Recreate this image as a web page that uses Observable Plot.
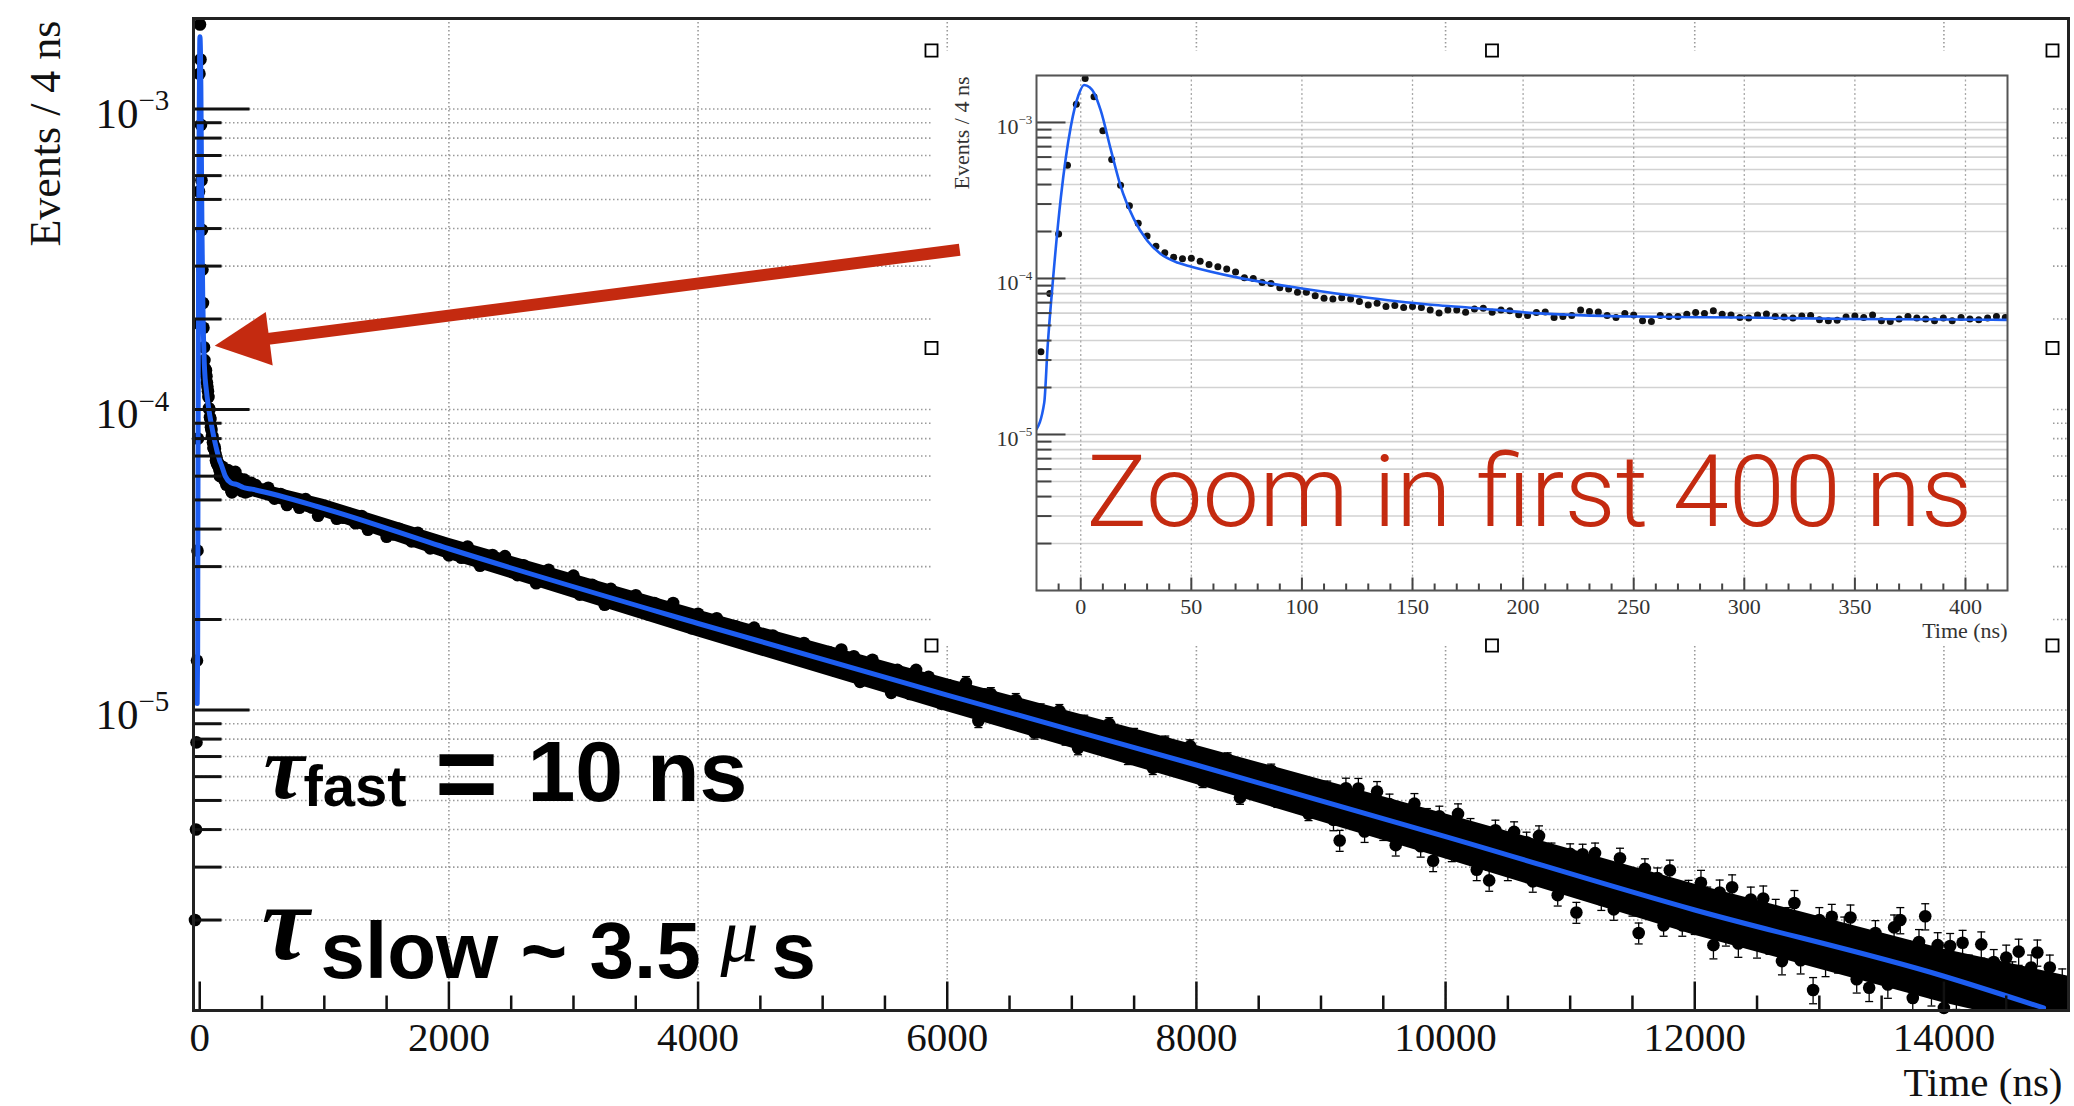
<!DOCTYPE html>
<html>
<head>
<meta charset="utf-8">
<script src="https://cdn.jsdelivr.net/npm/d3@7"></script>
<script src="https://cdn.jsdelivr.net/npm/@observablehq/plot@0.6"></script>
<style>
html, body { margin: 0; padding: 0; background: #fff; }
#stage { position: relative; width: 2074px; height: 1106px; overflow: hidden; background: #fff; }
#stage svg { position: absolute; max-width: none; }
</style>
</head>
<body>
<div id="stage"></div>
<script>
// ---------------- DATA ----------------
// Pre-trigger bins (only visible in the main panel, at the left edge)
const preTime  = [-38, -30, -26, -22];
const preValue = [2.0e-6, 4.0e-6, 7.8e-6, 1.46e-5];

// 4 ns bins of the first 420 ns (inset + main panel)
const fastTime = [
  -18,-14,-10,-6,-2,2,6,10,14,18,
  22,26,30,34,38,42,46,50,54,58,
  62,66,70,74,78,82,86,90,94,98,
  102,106,110,114,118,122,126,130,134,138,
  142,146,150,154,158,162,166,170,174,178,
  182,186,190,194,198,202,206,210,214,218,
  222,226,230,234,238,242,246,250,254,258,
  262,266,270,274,278,282,286,290,294,298,
  302,306,310,314,318,322,326,330,334,338,
  342,346,350,354,358,362,366,370,374,378,
  382,386,390,394,398,402,406,410,414,418
];
const fastValue = [
  3.39e-5,8.0e-5,1.93e-4,5.31e-4,1.31e-3,1.91e-3,1.46e-3,8.85e-4,5.79e-4,3.96e-4,
  2.92e-4,2.26e-4,1.87e-4,1.61e-4,1.46e-4,1.37e-4,1.34e-4,1.35e-4,1.29e-4,1.23e-4,
  1.19e-4,1.15e-4,1.10e-4,1.01e-4,1.00e-4,9.43e-5,9.29e-5,8.73e-5,8.55e-5,8.15e-5,
  8.15e-5,7.76e-5,7.46e-5,7.40e-5,7.53e-5,7.40e-5,7.11e-5,6.76e-5,6.93e-5,6.61e-5,
  6.70e-5,6.51e-5,6.61e-5,6.51e-5,6.29e-5,6.00e-5,6.29e-5,6.29e-5,6.08e-5,6.38e-5,
  6.45e-5,6.08e-5,6.29e-5,6.20e-5,5.85e-5,5.79e-5,6.05e-5,6.10e-5,5.62e-5,5.70e-5,
  5.79e-5,6.29e-5,6.15e-5,6.10e-5,5.79e-5,5.62e-5,5.97e-5,5.84e-5,5.35e-5,5.30e-5,
  5.79e-5,5.70e-5,5.70e-5,5.90e-5,6.05e-5,5.97e-5,6.20e-5,5.90e-5,5.84e-5,5.62e-5,
  5.58e-5,5.84e-5,5.93e-5,5.70e-5,5.66e-5,5.58e-5,5.75e-5,5.79e-5,5.43e-5,5.35e-5,
  5.39e-5,5.66e-5,5.75e-5,5.62e-5,5.84e-5,5.35e-5,5.30e-5,5.50e-5,5.70e-5,5.58e-5,
  5.50e-5,5.35e-5,5.58e-5,5.35e-5,5.62e-5,5.50e-5,5.43e-5,5.58e-5,5.70e-5,5.62e-5
];

// Slow tail, read every 50 ns (values in units of 1e-6 events / 4 ns)
const tailTime = [
  450,500,550,600,650,700,750,800,850,900,
  950,1000,1050,1100,1150,1200,1250,1300,1350,1400,
  1450,1500,1550,1600,1650,1700,1750,1800,1850,1900,
  1950,2000,2050,2100,2150,2200,2250,2300,2350,2400,
  2450,2500,2550,2600,2650,2700,2750,2800,2850,2900,
  2950,3000,3050,3100,3150,3200,3250,3300,3350,3400,
  3450,3500,3550,3600,3650,3700,3750,3800,3850,3900,
  3950,4000,4050,4100,4150,4200,4250,4300,4350,4400,
  4450,4500,4550,4600,4650,4700,4750,4800,4850,4900,
  4950,5000,5050,5100,5150,5200,5250,5300,5350,5400,
  5450,5500,5550,5600,5650,5700,5750,5800,5850,5900,
  5950,6000,6050,6100,6150,6200,6250,6300,6350,6400,
  6450,6500,6550,6600,6650,6700,6750,6800,6850,6900,
  6950,7000,7050,7100,7150,7200,7250,7300,7350,7400,
  7450,7500,7550,7600,7650,7700,7750,7800,7850,7900,
  7950,8000,8050,8100,8150,8200,8250,8300,8350,8400,
  8450,8500,8550,8600,8650,8700,8750,8800,8850,8900,
  8950,9000,9050,9100,9150,9200,9250,9300,9350,9400,
  9450,9500,9550,9600,9650,9700,9750,9800,9850,9900,
  9950,10000,10050,10100,10150,10200,10250,10300,10350,10400,
  10450,10500,10550,10600,10650,10700,10750,10800,10850,10900,
  10950,11000,11050,11100,11150,11200,11250,11300,11350,11400,
  11450,11500,11550,11600,11650,11700,11750,11800,11850,11900,
  11950,12000,12050,12100,12150,12200,12250,12300,12350,12400,
  12450,12500,12550,12600,12650,12700,12750,12800,12850,12900,
  12950,13000,13050,13100,13150,13200,13250,13300,13350,13400,
  13450,13500,13550,13600,13650,13700,13750,13800,13850,13900,
  13950,14000,14050,14100,14150,14200,14250,14300,14350,14400,
  14450,14500,14550,14600,14650,14700,14750,14800,14850,14900,
  14950
];
const tailValueMicro = [
  56.0,54.1,54.9,50.5,52.3,48.1,49.8,47.1,50.3,47.2,
  44.3,46.8,46.6,43.3,43.6,45.0,41.8,44.2,39.8,41.3,
  41.5,37.7,38.4,40.1,38.1,36.4,38.9,37.1,34.5,36.5,
  34.2,32.7,
  34.9,32.1,35.0,33.2,30.2,31.0,32.8,29.9,32.5,30.3,
  28.1,30.3,28.2,26.4,28.8,29.3,27.0,25.8,27.0,28.0,
  24.2,25.7,26.1,24.0,22.4,25.3,23.7,24.1,21.9,24.1,
  22.0,20.8,22.7,22.0,20.4,22.7,20.1,20.6,18.7,20.9,
  20.2,18.9,20.2,17.9,18.4,19.0,17.0,18.1,18.8,16.8,
  16.4,17.7,16.8,15.2,16.6,15.6,16.7,14.9,15.6,14.3,
  15.6,13.5,15.9,13.9,15.1,12.4,14.0,14.7,12.5,13.7,
  11.4,13.6,12.7,11.3,13.6,11.6,12.9,11.5,10.5,12.0,
  11.6,10.4,12.3,10.3,9.20,11.2,11.3,9.96,10.3,9.19,
  10.8,9.14,9.97,8.42,9.98,9.29,8.72,9.93,8.04,8.97,
  7.47,9.15,8.78,8.09,7.56,8.98,7.51,7.97,6.93,8.27,
  7.27,7.83,6.42,7.48,7.80,6.43,6.97,6.39,7.58,6.36,
  5.81,6.89,6.54,5.71,6.86,5.98,5.11,6.23,6.32,5.42,
  5.80,6.29,4.99,5.31,5.77,4.95,5.72,4.51,5.31,5.34,
  5.37,4.31,3.68,5.49,4.43,5.48,3.94,4.70,5.35,4.00,
  4.86,3.55,4.47,4.04,4.88,3.52,4.35,3.15,4.43,3.91,
  3.40,4.51,3.50,4.03,2.94,3.78,2.71,3.98,3.49,2.94,
  3.93,2.99,3.63,2.69,3.81,2.96,3.34,2.42,3.13,3.32,
  2.12,3.31,2.55,3.34,2.34,2.89,2.17,3.21,2.61,2.24,
  1.81,2.96,2.27,2.76,1.92,2.93,2.40,1.92,2.51,1.99,
  2.66,2.34,1.65,2.47,1.82,2.57,1.67,2.10,2.34,1.66,
  2.36,1.71,2.13,1.46,2.00,2.28,1.47,1.82,1.17,2.00,
  1.44,2.05,1.48,1.86,2.04,1.27,1.67,1.19,1.81,1.55,
  1.22,1.89,2.00,1.55,1.10,1.69,2.06,1.15,1.65,1.02,
  1.64,1.12,1.68,1.39,0.93,1.66,1.22,1.45,0.97,1.50,
  1.32,1.57,0.98,1.39,1.56,1.20,1.39,0.94,1.25
];

// Solid core of the dense 4 ns point cloud (upper / lower edge)
const bandTime  = [419, 1000, 2000, 4000, 6000, 8000, 10000, 12000, 14000, 15000];
const bandUpper = [5.75e-5, 5.02e-5, 3.73e-5, 2.15e-5, 1.27e-5, 7.62e-6, 4.51e-6, 2.63e-6, 1.60e-6, 1.30e-6];
const bandLower = [5.13e-5, 4.37e-5, 3.17e-5, 1.75e-5, 9.87e-6, 5.65e-6, 3.19e-6, 1.78e-6, 1.06e-6, 0.85e-6];

// Relative error-bar size read at a few times
const errKnotTime = [0, 3000, 6000, 9000, 12000];
const errKnotRel  = [0.012, 0.03, 0.05, 0.08, 0.10];

// Fit curve (blue)
const fitTime  = [-20.5,-16.5,-15,-12.5,-9,-4.5,-1,1.5,4,6,9,13.6,18,24,30,36,44,50,70,100,130,160,175,205,250,300,350,419,1000,2000,4000,6000,8000,10000,12000,14000,14800];
const fitValue = [1.05e-5,1.6e-5,3.6e-5,1.0e-4,3.3e-4,9.4e-4,1.5e-3,1.74e-3,1.68e-3,1.55e-3,1.2e-3,6.7e-4,3.92e-4,2.41e-4,1.75e-4,1.44e-4,1.26e-4,1.19e-4,1.02e-4,8.63e-5,7.53e-5,6.76e-5,6.52e-5,6.0e-5,5.7e-5,5.62e-5,5.5e-5,5.43e-5,4.68e-5,3.44e-5,1.94e-5,1.12e-5,6.56e-6,3.79e-6,2.16e-6,1.30e-6,1.02e-6];

// Axis ticks
const xMajorTicks = [0, 2000, 4000, 6000, 8000, 10000, 12000, 14000];
const xTickLabels = ["0", "2000", "4000", "6000", "8000", "10000", "12000", "14000"];
const xMinorTicks = [500,1000,1500,2500,3000,3500,4500,5000,5500,6500,7000,7500,8500,9000,9500,10500,11000,11500,12500,13000,13500,14500];
const xGridTicks  = [2000, 4000, 6000, 8000, 10000, 12000, 14000];
const yMajorTicks = [1e-5, 1e-4, 1e-3];
const yExponents  = ["\u22125", "\u22124", "\u22123"];
const yMinorTicks = [2e-6,3e-6,4e-6,5e-6,6e-6,7e-6,8e-6,9e-6,
                     2e-5,3e-5,4e-5,5e-5,6e-5,7e-5,8e-5,9e-5,
                     2e-4,3e-4,4e-4,5e-4,6e-4,7e-4,8e-4,9e-4];

const insetXMajor  = [0, 50, 100, 150, 200, 250, 300, 350, 400];
const insetXLabels = ["0", "50", "100", "150", "200", "250", "300", "350", "400"];
const insetXMinor  = [-10,10,20,30,40,60,70,80,90,110,120,130,140,160,170,180,190,210,220,230,240,260,270,280,290,310,320,330,340,360,370,380,390,410];

// Inset picture selection handles (fractions of the pasted picture box)
const handleX = [0, 0.5, 1, 0, 1, 0, 0.5, 1];
const handleY = [0, 0, 0, 0.5, 0.5, 1, 1, 1];

// Annotation arrow (from the inset towards the fast component)
const arrowFrom = {time: 6100, value: 3.4e-4};
const arrowTo   = {time: 120, value: 1.63e-4};

// ---------------- BUILD ----------------
const SERIF = "'Liberation Serif', 'Times New Roman', Times, serif";
const SANS  = "'Liberation Sans', Arial, Helvetica, sans-serif";
const BLUE  = "#1d5df0";
const RED   = "#c42a10";

const relErr = t => errKnotRel[Math.max(0, d3.bisectRight(errKnotTime, t) - 1)];
const mk = (t, v) => ({time: t, value: v, lo: v * (1 - relErr(t)), hi: v * (1 + relErr(t))});
const pre  = preTime.map((t, i) => mk(t, preValue[i]));
const fast = fastTime.map((t, i) => mk(t, fastValue[i]));
const nTail = Math.min(tailTime.length, tailValueMicro.length);
const tail = tailTime.slice(0, nTail).map((t, i) => mk(t, tailValueMicro[i] * 1e-6));
const mainPoints = [...pre, ...fast, ...tail].filter(d => d.value >= 1e-6);
const band = bandTime.map((t, i) => ({time: t, upper: bandUpper[i], lower: bandLower[i]}));
const fit = fitTime.map((t, i) => ({time: t, value: fitValue[i]}));
const handles = handleX.map((x, i) => ({hx: x, hy: handleY[i]}));

const tickSym = (dx, dy) => ({draw(c) { c.moveTo(0, 0); c.lineTo(dx, dy); }});
const capSym  = {draw(c) { c.moveTo(-4, 0); c.lineTo(4, 0); }};
const headSym = {draw(c) { c.moveTo(0, 0); c.lineTo(-55, -27); c.lineTo(-55, 27); c.closePath(); }};

const mainDims = {
  width: 2074, height: 1106,
  marginLeft: 193, marginRight: 6, marginTop: 18, marginBottom: 96,
  x: {domain: [-50, 15000], axis: null},
  y: {type: "log", domain: [1e-6, 2e-3], axis: null},
  style: {background: "transparent", overflow: "visible"}
};

const gridStyle = {stroke: "#9a9a9a", strokeWidth: 1.6, strokeDasharray: "1.5,2.5"};

const main = Plot.plot({
  ...mainDims,
  marks: [
    Plot.ruleY([...yMinorTicks, ...yMajorTicks], {y: d => d, ...gridStyle}),
    Plot.ruleX(xGridTicks, {x: d => d, ...gridStyle}),
    // dense core of the point cloud
    Plot.areaY(band, {x: "time", y1: "lower", y2: "upper", fill: "black", clip: true}),
    // error bars
    Plot.ruleX(mainPoints, {x: "time", y1: "lo", y2: "hi", stroke: "black", strokeWidth: 1.3, clip: true}),
    Plot.dot(mainPoints, {x: "time", y: "lo", symbol: capSym, r: 1, fill: "none", stroke: "black", strokeWidth: 1.3, clip: true}),
    Plot.dot(mainPoints, {x: "time", y: "hi", symbol: capSym, r: 1, fill: "none", stroke: "black", strokeWidth: 1.3, clip: true}),
    // data
    Plot.dot(mainPoints, {x: "time", y: "value", r: 6.3, fill: "black", stroke: "none"}),
    // fit
    Plot.line(fit, {x: "time", y: "value", stroke: BLUE, strokeWidth: 5, curve: "monotone-x", clip: true}),
    // ticks (inward)
    Plot.dot(yMajorTicks, {y: d => d, frameAnchor: "left", symbol: tickSym(56, 0), r: 1, fill: "none", stroke: "#111", strokeWidth: 3}),
    Plot.dot(yMinorTicks, {y: d => d, frameAnchor: "left", symbol: tickSym(28, 0), r: 1, fill: "none", stroke: "#111", strokeWidth: 3}),
    Plot.dot(xMajorTicks, {x: d => d, frameAnchor: "bottom", symbol: tickSym(0, -29), r: 1, fill: "none", stroke: "#111", strokeWidth: 2.5}),
    Plot.dot(xMinorTicks, {x: d => d, frameAnchor: "bottom", symbol: tickSym(0, -15), r: 1, fill: "none", stroke: "#111", strokeWidth: 2.5}),
    Plot.frame({stroke: "#222", strokeWidth: 3}),
    // tick labels
    Plot.text(yMajorTicks, {y: d => d, frameAnchor: "left", text: () => "10", dx: -55, dy: 5, textAnchor: "end", lineAnchor: "middle", fontFamily: SERIF, fontSize: 43, fill: "#111"}),
    Plot.text(yMajorTicks, {y: d => d, frameAnchor: "left", text: (d, i) => yExponents[i], dx: -55, dy: -8, textAnchor: "start", lineAnchor: "middle", fontFamily: SERIF, fontSize: 29, fill: "#111"}),
    Plot.text(xMajorTicks, {x: d => d, frameAnchor: "bottom", text: (d, i) => xTickLabels[i], dy: 27, lineAnchor: "middle", fontFamily: SERIF, fontSize: 41, fill: "#111"}),
    Plot.text(["Time (ns)"], {frameAnchor: "bottom-right", text: d => d, dx: -6, dy: 72, textAnchor: "end", lineAnchor: "middle", fontFamily: SERIF, fontSize: 41, fill: "#111"}),
    Plot.text(["Events / 4 ns"], {frameAnchor: "top-left", text: d => d, rotate: -90, dx: -148, dy: 2, textAnchor: "end", lineAnchor: "middle", fontFamily: SERIF, fontSize: 44, fill: "#111"}),
    // tau annotations
    Plot.text(["\u03C4"], {frameAnchor: "top-left", text: d => d, dx: 70, dy: 779, textAnchor: "start", lineAnchor: "bottom", fontFamily: SERIF, fontStyle: "italic", fontWeight: "bold", fontSize: 92, fill: "black"}),
    Plot.text(["fast"], {frameAnchor: "top-left", text: d => d, dx: 110, dy: 787, textAnchor: "start", lineAnchor: "bottom", fontFamily: SANS, fontWeight: "bold", fontSize: 58, fill: "black"}),
    Plot.text(["="], {frameAnchor: "top-left", text: d => d, dx: 273, dy: 791, textAnchor: "middle", lineAnchor: "bottom", fontFamily: SANS, fontWeight: "bold", fontSize: 108, fill: "black"}),
    Plot.text(["10 ns"], {frameAnchor: "top-left", text: d => d, dx: 334, dy: 782, textAnchor: "start", lineAnchor: "bottom", fontFamily: SANS, fontWeight: "bold", fontSize: 86, fill: "black"}),
    Plot.text(["\u03C4"], {frameAnchor: "top-left", text: d => d, dx: 68, dy: 940, textAnchor: "start", lineAnchor: "bottom", fontFamily: SERIF, fontStyle: "italic", fontWeight: "bold", fontSize: 108, fill: "black"}),
    Plot.text(["slow ~ 3.5"], {frameAnchor: "top-left", text: d => d, dx: 127, dy: 959, textAnchor: "start", lineAnchor: "bottom", fontFamily: SANS, fontWeight: "bold", fontSize: 80, fill: "black"}),
    Plot.text(["\u03BC"], {frameAnchor: "top-left", text: d => d, dx: 527, dy: 942, textAnchor: "start", lineAnchor: "bottom", fontFamily: SERIF, fontStyle: "italic", fontSize: 76, fill: "black"}),
    Plot.text(["s"], {frameAnchor: "top-left", text: d => d, dx: 578, dy: 959, textAnchor: "start", lineAnchor: "bottom", fontFamily: SANS, fontWeight: "bold", fontSize: 80, fill: "black"})
  ]
});

// White box of the pasted inset picture + its selection handles
const box = Plot.plot({
  width: 1135, height: 609, margin: 7,
  x: {domain: [0, 1], axis: null},
  y: {domain: [1, 0], axis: null},
  style: {background: "transparent", overflow: "visible"},
  marks: [
    Plot.frame({fill: "white", stroke: "none"}),
    Plot.dot(handles, {x: "hx", y: "hy", symbol: "square", r: 6.8, fill: "white", stroke: "black", strokeWidth: 1.8})
  ]
});

// Inset: zoom in the first 400 ns
const insetGridY = [1e-6, ...yMinorTicks, ...yMajorTicks, 2e-3];
const inset = Plot.plot({
  width: 1135, height: 609,
  marginLeft: 112, marginRight: 52, marginTop: 32, marginBottom: 62,
  x: {domain: [-20, 419], axis: null},
  y: {type: "log", domain: [1e-6, 2e-3], axis: null},
  style: {background: "transparent", overflow: "visible"},
  marks: [
    Plot.ruleY(insetGridY, {y: d => d, stroke: "#d2d2d2", strokeWidth: 1.6}),
    Plot.ruleX(insetXMajor, {x: d => d, stroke: "#a8a8a8", strokeWidth: 1.3, strokeDasharray: "2,2.5"}),
    Plot.dot(fast, {x: "time", y: "value", r: 3.5, fill: "#111", stroke: "none", clip: true}),
    Plot.line(fit, {x: "time", y: "value", stroke: BLUE, strokeWidth: 2.6, curve: "monotone-x", clip: true}),
    Plot.dot(yMajorTicks, {y: d => d, frameAnchor: "left", symbol: tickSym(29, 0), r: 1, fill: "none", stroke: "#444", strokeWidth: 2}),
    Plot.dot(yMinorTicks, {y: d => d, frameAnchor: "left", symbol: tickSym(15, 0), r: 1, fill: "none", stroke: "#444", strokeWidth: 2}),
    Plot.dot(insetXMajor, {x: d => d, frameAnchor: "bottom", symbol: tickSym(0, -13), r: 1, fill: "none", stroke: "#444", strokeWidth: 2}),
    Plot.dot(insetXMinor, {x: d => d, frameAnchor: "bottom", symbol: tickSym(0, -7), r: 1, fill: "none", stroke: "#444", strokeWidth: 2}),
    Plot.frame({stroke: "#555", strokeWidth: 2}),
    Plot.text(yMajorTicks, {y: d => d, frameAnchor: "left", text: () => "10", dx: -18, dy: 4, textAnchor: "end", lineAnchor: "middle", fontFamily: SERIF, fontSize: 22, fill: "#333"}),
    Plot.text(yMajorTicks, {y: d => d, frameAnchor: "left", text: (d, i) => yExponents[i], dx: -18, dy: -3, textAnchor: "start", lineAnchor: "middle", fontFamily: SERIF, fontSize: 13, fill: "#333"}),
    Plot.text(insetXMajor, {x: d => d, frameAnchor: "bottom", text: (d, i) => insetXLabels[i], dy: 16, lineAnchor: "middle", fontFamily: SERIF, fontSize: 22, fill: "#333"}),
    Plot.text(["Time (ns)"], {frameAnchor: "bottom-right", text: d => d, dy: 40, textAnchor: "end", lineAnchor: "middle", fontFamily: SERIF, fontSize: 22, fill: "#333"}),
    Plot.text(["Events / 4 ns"], {frameAnchor: "top-left", text: d => d, rotate: -90, dx: -75, dy: 1, textAnchor: "end", lineAnchor: "middle", fontFamily: SERIF, fontSize: 22, fill: "#333"}),
    Plot.text(["Zoom in first 400 ns"], {frameAnchor: "top-left", text: d => d, dx: 50, dy: 450, textAnchor: "start", lineAnchor: "bottom", fontFamily: "Roboto, 'Open Sans', Lato, sans-serif", fontWeight: 300, fontSize: 101, fill: RED})
  ]
});

// Red arrow overlay, on the main panel's scales
const xs = main.scale("x"), ys = main.scale("y");
const angle = Math.atan2(ys.apply(arrowTo.value) - ys.apply(arrowFrom.value), xs.apply(arrowTo.time) - xs.apply(arrowFrom.time)) * 180 / Math.PI;
const overlay = Plot.plot({
  ...mainDims,
  marks: [
    Plot.arrow([0], {x1: () => arrowFrom.time, y1: () => arrowFrom.value, x2: () => arrowTo.time, y2: () => arrowTo.value, stroke: RED, strokeWidth: 12, headLength: 0, insetEnd: 46, strokeLinecap: "butt"}),
    Plot.dot([0], {x: () => arrowTo.time, y: () => arrowTo.value, symbol: headSym, r: 1, fill: RED, stroke: "none", rotate: angle})
  ]
});

const stage = document.getElementById("stage");
[[main, 0, 0], [box, 924, 43], [inset, 924, 43], [overlay, 0, 0]].forEach(([svg, left, top]) => {
  svg.style.left = left + "px";
  svg.style.top = top + "px";
  stage.appendChild(svg);
});
</script>
</body>
</html>
